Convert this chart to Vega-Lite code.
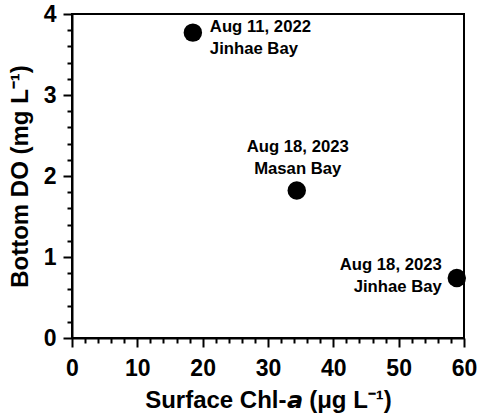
{
  "$schema": "https://vega.github.io/schema/vega-lite/v6.json",
  "autosize": "none",
  "width": 392,
  "height": 324,
  "padding": {"left": 72, "top": 14, "right": 15, "bottom": 82},
  "background": "white",
  "config": {
    "view": {"stroke": "black", "strokeWidth": 2},
    "font": "Liberation Sans",
    "axis": {
      "grid": false,
      "domainColor": "black",
      "domainWidth": 2,
      "tickColor": "black",
      "tickWidth": 2,
      "labelFont": "Liberation Sans",
      "labelFontSize": 23,
      "labelFontWeight": "bold",
      "labelColor": "black",
      "labelFlush": false,
      "labelOverlap": false,
      "titleFont": "Liberation Sans",
      "titleFontSize": 24,
      "titleFontWeight": "bold",
      "titleColor": "black"
    }
  },
  "data": {
    "values": [
      {"chl": 18.5, "do": 3.77, "label": ["Aug 11, 2022", "Jinhae Bay"]},
      {"chl": 34.4, "do": 1.82, "label": ["Aug 18, 2023", "Masan Bay"]},
      {"chl": 58.9, "do": 0.74, "label": ["Aug 18, 2023", "Jinhae Bay"]}
    ]
  },
  "encoding": {
    "x": {
      "field": "chl",
      "type": "quantitative",
      "scale": {"domain": [0, 60], "nice": false, "zero": false},
      "axis": {
        "title": "Surface Chl-𝙖 (μg L⁻¹)",
        "values": [0, 2, 4, 6, 8, 10, 12, 14, 16, 18, 20, 22, 24, 26, 28, 30, 32, 34, 36, 38, 40, 42, 44, 46, 48, 50, 52, 54, 56, 58, 60],
        "format": ".0f",
        "labelExpr": "datum.value % 10 === 0 ? datum.label : ''",
        "tickSize": {"condition": {"test": "datum.value % 10 === 0", "value": 9}, "value": 5},
        "labelPadding": 10,
        "titlePadding": 8
      }
    },
    "y": {
      "field": "do",
      "type": "quantitative",
      "scale": {"domain": [0, 4], "nice": false, "zero": false},
      "axis": {
        "title": "Bottom DO (mg L⁻¹)",
        "values": [0, 0.2, 0.4, 0.6, 0.8, 1, 1.2, 1.4, 1.6, 1.8, 2, 2.2, 2.4, 2.6, 2.8, 3, 3.2, 3.4, 3.6, 3.8, 4],
        "format": ".0f",
        "labelExpr": "abs(datum.value - round(datum.value)) < 0.01 ? datum.label : ''",
        "tickSize": {"condition": {"test": "abs(datum.value - round(datum.value)) < 0.01", "value": 9}, "value": 5},
        "labelPadding": 7,
        "titlePadding": 11
      }
    }
  },
  "layer": [
    {
      "mark": {"type": "circle", "size": 340, "color": "black", "opacity": 1}
    },
    {
      "transform": [{"filter": "datum.chl < 20"}],
      "mark": {"type": "text", "align": "left", "baseline": "alphabetic", "dx": 17, "dy": -1, "fontSize": 16.7, "fontWeight": "bold", "lineHeight": 22, "color": "black", "font": "Liberation Sans"},
      "encoding": {"text": {"field": "label"}}
    },
    {
      "transform": [{"filter": "datum.chl > 30 && datum.chl < 40"}],
      "mark": {"type": "text", "align": "center", "baseline": "alphabetic", "dx": 1, "dy": -39, "fontSize": 16.7, "fontWeight": "bold", "lineHeight": 22, "color": "black", "font": "Liberation Sans"},
      "encoding": {"text": {"field": "label"}}
    },
    {
      "transform": [{"filter": "datum.chl > 50"}],
      "mark": {"type": "text", "align": "right", "baseline": "alphabetic", "dx": -15, "dy": -8, "fontSize": 16.7, "fontWeight": "bold", "lineHeight": 22, "color": "black", "font": "Liberation Sans"},
      "encoding": {"text": {"field": "label"}}
    }
  ]
}
